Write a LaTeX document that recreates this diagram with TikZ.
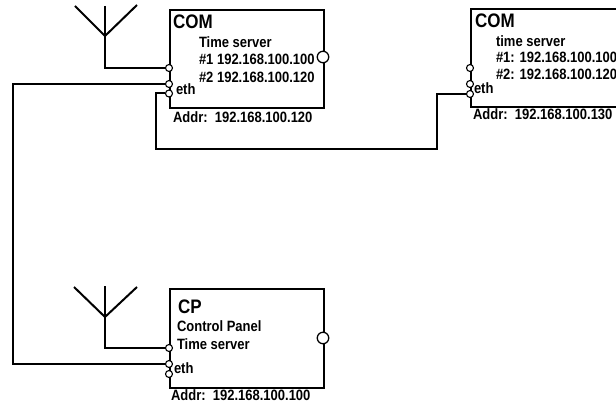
\documentclass[tikz,border=0pt]{standalone}
\usepackage{fontspec}
\setmainfont{Liberation Sans}
\usetikzlibrary{arrows.meta,positioning}
\newcommand{\tall}[1]{\scalebox{1}[1.15]{#1}}

\begin{document}
\begin{tikzpicture}[x=1pt, y=-1pt, line width=2pt]
    \tikzstyle{unit} = [draw, anchor=north west, inner sep=0pt, minimum width=154pt, minimum height=98pt];
    \tikzstyle{port} = [shape=circle, draw, fill=white, line width=1.1pt, inner sep=0pt, minimum size=7pt];
    \tikzstyle{sync} = [shape=circle, draw, fill=white, line width=1.3pt, inner sep=0pt, minimum size=11.5pt];
    \tikzstyle{title} = [anchor=base west, inner sep=0pt, font=\fontsize{17}{19}\selectfont\bfseries];
    \tikzstyle{txt} = [anchor=base west, inner sep=0pt, font=\fontsize{13}{15}\selectfont\bfseries];

    \useasboundingbox (0,0) rectangle (616,406);
    \clip (0,0) rectangle (616,406);

    \node[unit](COMA) at (169,9) {};
    \node[unit](COMB) at (470,8) {};
    \node[unit, minimum width=154pt, minimum height=99pt](CP) at (169,288) {};

    \node[title] at (172,29) {\tall{COM}};
    \node[txt] at (198,48) {\tall{Time server}};
    \node[txt] at (198,65) {\tall{\#1 192.168.100.100}};
    \node[txt] at (198,83) {\tall{\#2 192.168.100.120}};
    \node[txt] at (175,95) {\tall{eth}};
    \node[txt] at (172,123) {\tall{Addr:\ \ 192.168.100.120}};

    \node[title] at (474,28) {\tall{COM}};
    \node[txt] at (495,47) {\tall{time server}};
    \node[txt] at (495,63) {\tall{\#1: 192.168.100.100}};
    \node[txt] at (495,80) {\tall{\#2: 192.168.100.120}};
    \node[txt] at (473,94) {\tall{eth}};
    \node[txt] at (472,120) {\tall{Addr:\ \ 192.168.100.130}};

    \node[title] at (177,313) {\tall{CP}};
    \node[txt] at (176,331) {\tall{Control Panel}};
    \node[txt] at (176,349) {\tall{Time server}};
    \node[txt] at (173,373) {\tall{eth}};
    \node[txt] at (170,400) {\tall{Addr:\ \ 192.168.100.100}};

    \node[sync](SA) at (323,57) {};
    \node[sync](SC) at (323,338) {};
    \node[port](A1) at (169,68) {};
    \node[port](A2) at (169,84) {};
    \node[port](A3) at (169,93.5) {};
    \node[port](B1) at (470,68) {};
    \node[port](B2) at (470,84) {};
    \node[port](B3) at (470,94) {};
    \node[port](C1) at (169,348) {};
    \node[port](C2) at (169,364) {};
    \node[port](C3) at (169,374) {};

    \coordinate(ANTA) at (105,6);
    \coordinate(ANTC) at (105,286);

    \draw (75,6) -- (105,36) -- (137,5);
    \draw (74,287) -- (105,317) -- (137,287);
    \draw (ANTA) |- (A1);
    \draw (ANTC) |- (C1);
    \draw (A2) -- (13,84) |- (C2);
    \draw (A3) -| (156,149) -| (437,94) -- (B3);
\end{tikzpicture}
\end{document}
